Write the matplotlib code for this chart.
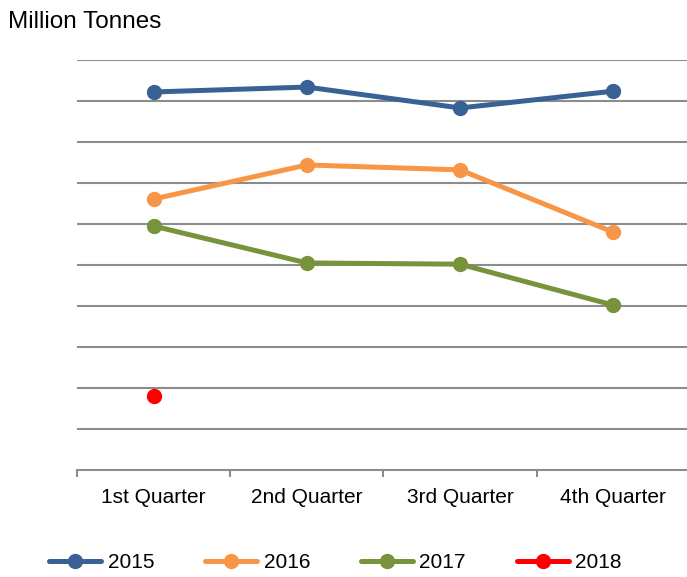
import numpy as np
import matplotlib.pyplot as plt

plt.rcParams['font.family'] = ['Liberation Sans', 'DejaVu Sans']

quarters = ["1st Quarter", "2nd Quarter", "3rd Quarter", "4th Quarter"]
years = ["2015", "2016", "2017", "2018"]
values_2015 = [9.22, 9.34, 8.83, 9.24]
values_2016 = [6.61, 7.44, 7.32, 5.80]
values_2017 = [5.95, 5.05, 5.02, 4.02]
values_2018 = [1.80, np.nan, np.nan, np.nan]
colors = ["#386195", "#F79646", "#77933C", "#FF0000"]

W, H = 687, 577
fig = plt.figure(figsize=(W / 100, H / 100), dpi=100)
ax = fig.add_axes([77 / W, 1 - 470 / H, (690 - 77) / W, (470 - 60) / H])

x = np.arange(len(quarters))
for vals, col, lab in zip([values_2015, values_2016, values_2017, values_2018], colors, years):
    ax.plot(x, vals, color=col, lw=3.6, marker='o', ms=10, label=lab,
            solid_capstyle='round', clip_on=False, zorder=3)

ax.set_xlim(-0.5, 3.5)
ax.set_ylim(0, 10)
ax.set_yticks(np.arange(1, 11))
ax.yaxis.grid(True, color="#8c8c8c", lw=1.5)
ax.tick_params(axis='y', length=0, labelleft=False)
ax.set_xticks(x)
ax.set_xticklabels(quarters, fontsize=15)
ax.set_xticks(np.arange(-0.5, 4, 1), minor=True)
ax.tick_params(axis='x', which='major', length=0, pad=13)
ax.tick_params(axis='x', which='minor', length=5, width=1.5, color="#8c8c8c")
for s in ['top', 'right', 'left']:
    ax.spines[s].set_visible(False)
ax.spines['bottom'].set_color("#8c8c8c")
ax.spines['bottom'].set_linewidth(1.5)
ax.set_axisbelow(True)

fig.text(8 / W, 1 - 22 / H, "Million Tonnes", fontsize=17.5, va='center', ha='left')

fig.legend(loc='center left', bbox_to_anchor=(41 / W, 1 - 563 / H), ncol=4,
           frameon=False, fontsize=15, handlelength=2.5, handletextpad=0.3,
           columnspacing=2.45, borderaxespad=0)

fig.savefig("out.png", dpi=100)
